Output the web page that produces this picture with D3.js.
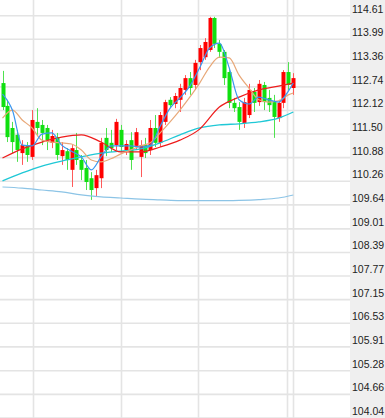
<!DOCTYPE html>
<html><head><meta charset="utf-8">
<script src="https://cdn.jsdelivr.net/npm/d3@7"></script>
<style>html,body{margin:0;padding:0;background:#fff;}svg{display:block;}</style>
</head><body>
<svg id="c" width="385" height="418"></svg>
<script>
// ---- data ----
const opens  = [112.84,112.24,111.66,111.48,111.00,111.19,110.90,111.82,111.74,111.66,111.27,111.42,110.92,111.05,110.56,111.08,110.82,110.61,110.34,110.08,110.34,111.40,111.27,111.21,111.61,111.08,111.34,111.19,110.90,111.21,111.08,111.66,111.27,111.82,112.40,112.29,112.40,112.66,112.97,112.79,113.39,113.52,113.71,114.55,113.87,113.66,113.13,112.32,112.21,111.79,112.00,112.61,112.34,112.79,112.45,112.34,111.92,112.32,113.13,112.71];
const closes = [112.21,111.42,111.29,111.08,111.21,110.95,111.87,111.66,111.53,111.34,111.45,110.95,111.08,110.82,111.13,110.82,110.56,110.24,110.03,110.42,111.27,111.08,111.13,111.82,111.16,111.24,110.82,111.55,111.21,111.00,111.66,111.27,112.00,112.34,112.26,112.50,112.71,112.97,112.71,113.37,113.76,113.92,114.55,113.87,113.66,112.97,112.32,112.18,111.82,112.34,112.66,112.32,112.82,112.34,112.26,111.95,112.32,113.13,112.79,112.97];
const highs  = [113.16,112.40,111.82,111.61,111.34,111.29,112.13,112.18,111.87,111.74,111.61,111.53,111.29,111.13,111.21,111.53,110.95,110.82,110.50,110.56,111.40,111.66,111.61,111.90,111.74,111.34,111.55,111.66,111.34,111.40,111.87,112.00,112.08,112.40,112.47,112.58,112.82,113.05,113.13,113.45,113.84,114.02,114.58,114.58,113.97,113.71,113.24,112.45,112.34,112.45,112.82,112.71,112.92,112.87,112.66,112.53,112.40,113.18,113.39,113.10];
const lows   = [112.13,111.29,111.00,110.77,110.69,110.77,110.82,111.48,111.21,111.08,111.13,110.82,110.69,110.56,110.11,110.69,110.29,110.03,109.77,109.87,110.08,110.92,111.03,111.08,111.03,110.95,110.56,111.08,110.37,110.87,110.95,111.16,111.16,111.74,112.18,112.18,112.08,112.53,112.53,112.66,113.18,113.45,113.66,113.76,113.50,112.79,112.18,112.08,111.61,111.66,111.92,112.08,112.24,112.13,112.08,111.40,111.82,112.18,112.66,112.53];

// moving averages, read at sample candle indices
const fastIdx = [0,2,4,6,8,10,12,14,16,18,20,22,24,26,28,30,32,34,36,38,40,42,44,46,48,50,52,54,56,58,59];
const ma5  = [112.55,112.13,111.21,111.19,111.50,111.53,111.21,111.05,110.90,110.56,110.90,111.19,111.19,111.19,111.16,111.21,111.71,112.18,112.45,112.76,113.24,113.76,113.89,113.24,112.40,112.29,112.47,112.40,112.34,112.63,112.84];
const ma10 = [111.92,112.13,111.87,111.66,111.34,111.29,111.27,111.24,111.08,110.82,110.77,110.85,110.98,111.08,111.19,111.27,111.53,111.82,112.13,112.47,112.84,113.26,113.52,113.50,113.05,112.71,112.40,112.34,112.37,112.53,112.58];
const slowIdx = [0,4,8,12,16,20,24,28,32,36,40,44,48,52,56,59];
const ma20  = [110.87,111.11,111.29,111.42,111.48,111.29,111.03,111.03,111.16,111.34,111.63,112.21,112.47,112.66,112.76,112.84];
const ma60  = [110.27,110.48,110.66,110.79,110.90,111.00,111.05,111.11,111.27,111.48,111.66,111.74,111.77,111.82,111.92,112.08];
const ma120 = [110.11,110.08,110.03,109.98,109.90,109.85,109.82,109.79,109.77,109.75,109.75,109.75,109.76,109.78,109.82,109.90];

const tickLabels = [114.61,113.99,113.36,112.74,112.12,111.50,110.88,110.26,109.64,109.01,108.39,107.77,107.15,106.53,105.91,105.28,104.66,104.04];
const gridIdx = [6.2, 24, 39.7, 57.7, 59];

// ---- drawing ----
const W = 385, H = 418, plotRight = 350;
const svg = d3.select("#c");
const n = opens.length;
const x = d3.scaleLinear().domain([0, n - 1]).range([2.5, 293.3]);
const y = d3.scaleLinear().domain([104.04, 114.61]).range([418, 15.7]);

svg.append("rect").attr("x", 0).attr("y", 0).attr("width", W).attr("height", H).attr("fill", "#fff");
svg.append("rect").attr("x", plotRight).attr("y", 0).attr("width", W - plotRight).attr("height", H).attr("fill", "#efefef");

// horizontal grid
svg.append("g").selectAll("line").data(tickLabels).join("line")
  .attr("x1", 0).attr("x2", plotRight)
  .attr("y1", d => y(d)).attr("y2", d => y(d))
  .attr("stroke", "#e4e4e4").attr("stroke-width", 1.6);
// vertical grid
svg.append("g").selectAll("line").data(gridIdx).join("line")
  .attr("x1", d => Math.round(x(d)) + 0.5).attr("x2", d => Math.round(x(d)) + 0.5)
  .attr("y1", 0).attr("y2", H)
  .attr("stroke", "#e4e4e4").attr("stroke-width", 1.6);

// axis labels
const axis = d3.axisRight(y).tickValues(tickLabels).tickSize(0).tickPadding(2)
  .tickFormat(d3.format(".2f"));
const ag = svg.append("g").attr("transform", `translate(${plotRight},0)`).call(axis);
ag.select(".domain").remove();
ag.selectAll("text").attr("dy", 0).attr("y", -3.5)
  .attr("font-family", "'Liberation Sans', Arial, sans-serif").attr("font-size", "10.5px")
  .attr("fill", "#222");

// candles
const idx = d3.range(n);
const up = i => closes[i] >= opens[i];
const cg = svg.append("g");
cg.selectAll("line").data(idx).join("line")
  .attr("x1", i => Math.round(x(i)) + 0.5).attr("x2", i => Math.round(x(i)) + 0.5)
  .attr("y1", i => y(highs[i])).attr("y2", i => y(lows[i]))
  .attr("stroke", i => up(i) ? "#ff5a5a" : "#4fe24f").attr("stroke-width", 1);
cg.selectAll("rect").data(idx).join("rect")
  .attr("x", i => Math.round(x(i)) - 1.5).attr("width", 4)
  .attr("y", i => y(Math.max(opens[i], closes[i])))
  .attr("height", i => Math.max(1, Math.abs(y(opens[i]) - y(closes[i]))))
  .attr("fill", i => up(i) ? "#ff0000" : "#10e010");

// moving averages
function maLine(ix, vals, color, w) {
  const pts = ix.map((d, k) => [x(d), y(vals[k])]);
  svg.append("path").attr("d", d3.line().curve(d3.curveMonotoneX)(pts))
    .attr("fill", "none").attr("stroke", color).attr("stroke-width", w);
}
maLine(slowIdx, ma120, "#8cc4e6", 1.2);
maLine(slowIdx, ma60, "#1fc8d6", 1.3);
maLine(slowIdx, ma20, "#ee1c1c", 1.2);
maLine(fastIdx, ma10, "#e8a878", 1.2);
maLine(fastIdx, ma5, "#3a96f0", 1.2);
</script>
</body></html>
